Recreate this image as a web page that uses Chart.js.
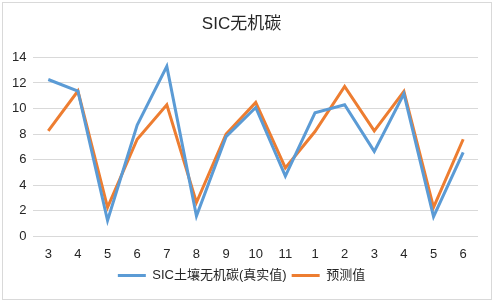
<!DOCTYPE html>
<html>
<head>
<meta charset="utf-8">
<script src="https://cdn.jsdelivr.net/npm/chart.js@4/dist/chart.umd.min.js"></script>
<style>
  html, body { margin: 0; padding: 0; background: #fff; }
  #wrap { position: relative; width: 493px; height: 302px; }
  #frame { position: absolute; left: 2px; top: 2px; width: 488px; height: 296px; border: 1px solid #d9d9d9; pointer-events: none; }
  canvas { position: absolute; left: 0; top: 0; }
</style>
</head>
<body>
<div id="wrap">
  <canvas id="chart" width="493" height="302"></canvas>
  <div id="frame"></div>
</div>
<script>
var months = ["3", "4", "5", "6", "7", "8", "9", "10", "11", "1", "2", "3", "4", "5", "6"];
var shiji = [12.27, 11.37, 1.24, 8.7, 13.3, 1.6, 7.8, 10.08, 4.72, 9.67, 10.3, 6.65, 11.16, 1.55, 6.57];
var yuce = [8.25, 11.37, 2.27, 7.6, 10.3, 2.65, 8.0, 10.47, 5.36, 8.2, 11.73, 8.25, 11.34, 2.27, 7.6];
var yTicks = [0, 2, 4, 6, 8, 10, 12, 14];

var fontFam = "'Liberation Sans', Arial, 'Noto Sans CJK SC', sans-serif";

var config = {
  type: "line",
  data: {
    labels: months,
    datasets: [
      {
        label: "SIC土壤无机碳(真实值)",
        data: shiji,
        borderColor: "#5B9BD5",
        backgroundColor: "#5B9BD5",
        borderWidth: 3,
        pointRadius: 0,
        tension: 0,
      },
      {
        label: "预测值",
        data: yuce,
        borderColor: "#ED7D31",
        backgroundColor: "#ED7D31",
        borderWidth: 3,
        pointRadius: 0,
        tension: 0,
      },
    ],
  },
  options: {
    responsive: false,
    animation: false,
    layout: { padding: { left: 5, right: 15, top: 8, bottom: 10 } },
    plugins: {
      title: {
        display: true,
        text: "SIC无机碳",
        color: "#262626",
        font: { family: fontFam, size: 17, weight: "normal" },
        padding: { top: 6, bottom: 23 },
      },
      legend: {
        position: "bottom",
        labels: {
          color: "#262626",
          font: { family: fontFam, size: 13 },
          boxWidth: 28,
          boxHeight: 3,
          padding: 5,
          generateLabels: function (chart) {
            return chart.data.datasets.map(function (ds, i) {
              return {
                text: ds.label,
                fillStyle: ds.borderColor,
                strokeStyle: ds.borderColor,
                lineWidth: 0,
                datasetIndex: i,
                fontColor: "#262626",
              };
            });
          },
        },
      },
      tooltip: { enabled: false },
    },
    scales: {
      x: {
        offset: true,
        grid: { display: false },
        border: { display: false },
        ticks: { color: "#262626", font: { family: fontFam, size: 13 }, padding: 2, maxRotation: 0 },
      },
      y: {
        min: 0,
        max: 14,
        afterBuildTicks: function (axis) {
          axis.ticks = yTicks.map(function (v) { return { value: v }; });
        },
        grid: { color: "#d9d9d9", lineWidth: 1, drawTicks: false },
        border: { display: false },
        ticks: { color: "#262626", font: { family: fontFam, size: 13 }, padding: 7 },
      },
    },
  },
};

var chart = new Chart(document.getElementById("chart"), config);
</script>
</body>
</html>
